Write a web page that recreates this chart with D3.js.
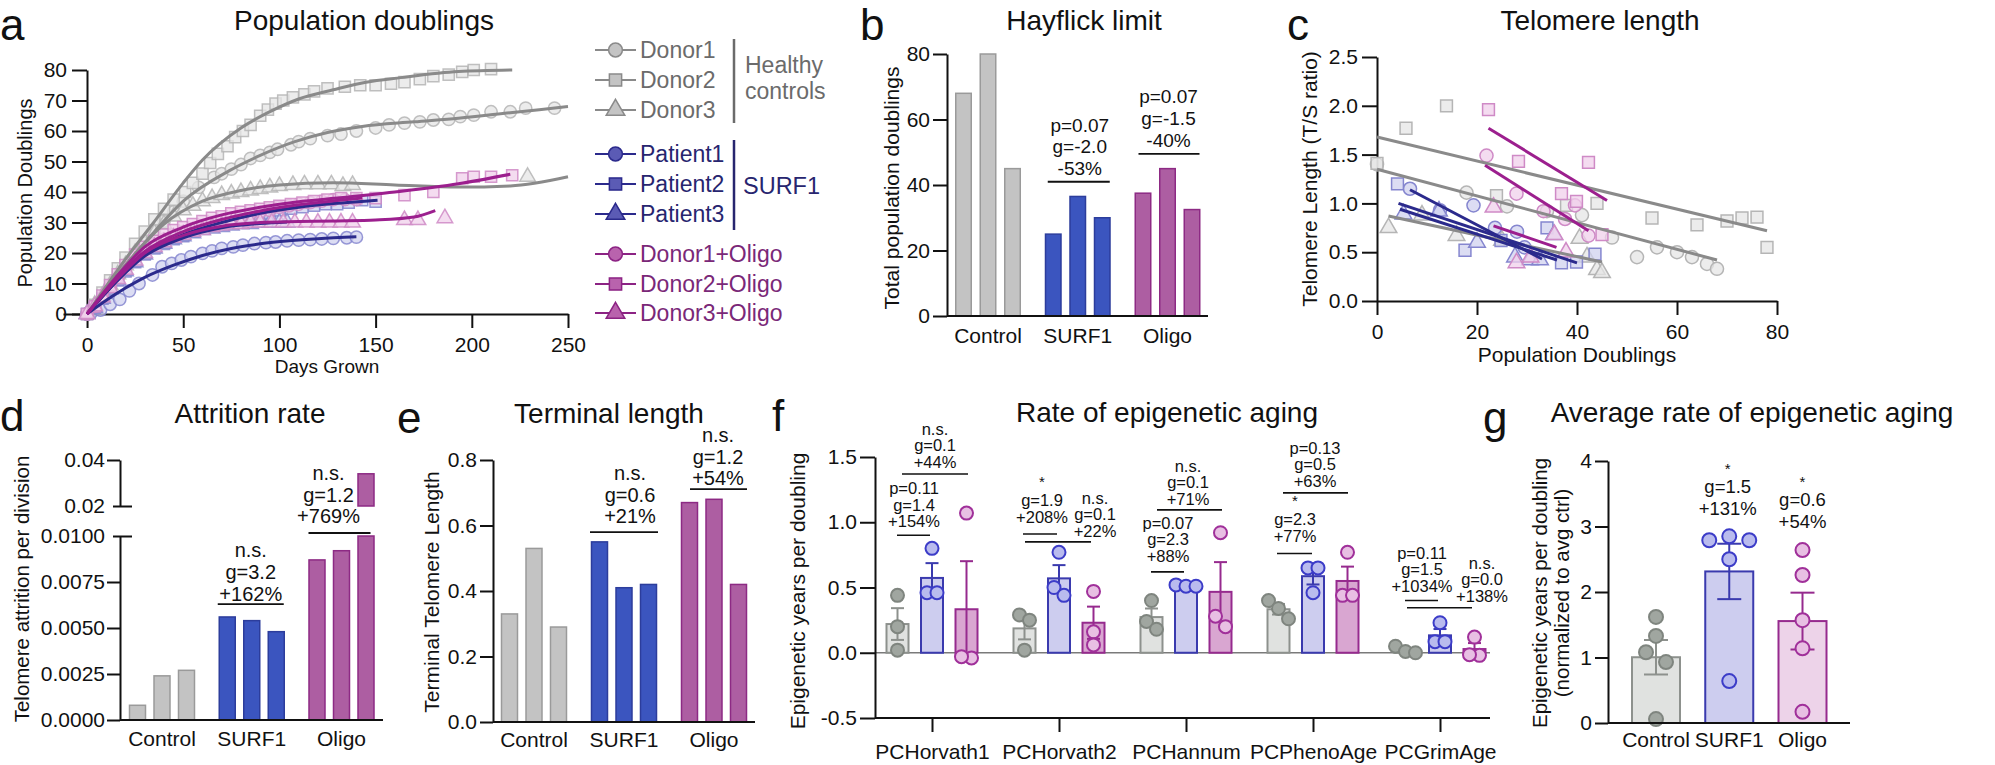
<!DOCTYPE html>
<html>
<head>
<meta charset="utf-8">
<script src="https://cdn.jsdelivr.net/npm/d3@7/dist/d3.min.js"></script>
<style>
  body { margin: 0; background: #fff; }
</style>
</head>
<body>
<svg id="fig" width="1995" height="765"></svg>
<script>
// ---------- a: population doublings over time ----------
const lineNames = ['Donor1', 'Donor2', 'Donor3', 'Patient1', 'Patient2', 'Patient3', 'Donor1+Oligo', 'Donor2+Oligo', 'Donor3+Oligo'];
const lineGroups = ['ctrl', 'ctrl', 'ctrl', 'surf', 'surf', 'surf', 'oligo', 'oligo', 'oligo'];
const daysTicks = [0, 50, 100, 150, 200, 250];
const pdTicks = [0, 10, 20, 30, 40, 50, 60, 70, 80];

const donor1Growth = [[0,0],[4,2.5],[8,5.5],[12,9],[17,13],[21,16.5],[26,20.5],[30,24],[35,27.5],[40,30.5],[45,33.5],[50,37],[58,41.5],[66,44.8],[70,46],[75,47.5],[80,49],[85,51],[90,52],[95,53],[99,54],[106,55.5],[110,56.5],[116,57.5],[125,58.5],[132,59],[140,60],[150,61],[157,62],[165,62.6],[173,63],[180,63.6],[188,63.8],[194,64.7],[201,65.2],[210,66.3],[220,66.3],[228,67.5],[243,67.5]];
const donor2Growth = [[0,0],[4,3],[8,7],[12,11],[16,15],[20,18.5],[25,23],[30,27],[35,31],[40,34.5],[45,37.5],[51,40],[55,43],[60,46],[64,49.5],[68,52.5],[73,55],[77,58],[81,60],[85,62],[90,65],[94,67],[98,69],[102,70],[107,71],[113,72],[118,73],[125,74],[134,74.5],[142,75],[150,75],[158,75.5],[165,76],[173,77],[180,78],[188,78.5],[195,79.4],[201,80],[210,80.3]];
const donor3Growth = [[0,0],[4,3],[8,6],[12,9.5],[16,13],[20,16],[25,20],[30,23.5],[35,26.5],[40,29.5],[45,32],[50,34],[55,35.5],[60,37],[65,38],[70,39],[75,39.5],[80,40],[85,40.5],[90,41],[95,41.5],[100,42],[107,42.3],[113,42.5],[120,42.5],[127,42.5],[133,42],[138,42.3],[229,45]];
const patient1Growth = [[0,0],[2,0.3],[7,1.3],[12,3.2],[17,4.8],[22,7.6],[27,10],[34,12.8],[39,15.5],[44,16.6],[49,17.7],[54,18.8],[60,19.9],[65,20.7],[70,21.5],[76,22],[81,22.6],[87,23.1],[93,23.4],[98,23.6],[104,24],[110,24.2],[116,24.4],[122,24.6],[128,24.8],[135,25],[140,25.2]];
const patient2Growth = [[0,0],[4,2],[8,5],[12,8],[16,11],[20,14],[25,17],[30,19.5],[35,21.5],[40,23],[45,24.5],[50,25.5],[55,27],[60,28],[65,29],[70,30],[75,30.5],[80,31.5],[85,32],[90,32.5],[95,33],[100,34],[106,34.5],[112,35],[118,35.5],[124,36],[130,36],[136,36.5],[143,37.3],[150,36.8]];
const patient3Growth = [[0,0],[4,2],[8,5],[12,8],[16,11],[20,14],[25,17],[30,19.5],[35,21.5],[40,23],[45,24.5],[50,25.5],[55,26.5],[60,27.5],[65,28],[70,28.5],[75,29],[80,29.5],[85,29.5],[90,30],[95,30],[100,30],[104,30]];
const oligo1Growth = [[0,0],[4,2.5],[8,5.5],[12,9],[16,12],[20,15],[25,18.5],[30,21],[35,23],[40,24.5],[45,26],[50,27],[55,28],[60,29],[65,30],[70,30.5],[75,31.5],[80,32],[85,33],[90,33.5],[95,34],[100,35],[105,35.5],[110,36],[116,36.5],[122,37],[128,37.5],[134,37.5],[140,37.5]];
const oligo2Growth = [[0,0],[4,2.5],[8,6],[12,9.5],[16,13],[20,16],[25,19.5],[30,22],[35,24],[40,26],[45,27.5],[50,28.5],[55,29.5],[60,30.5],[65,31.5],[70,32],[75,33],[80,33.5],[85,34],[90,34.5],[95,35],[100,35.5],[106,36],[112,36.5],[118,37],[125,37.5],[132,38],[140,38],[150,38],[165,39],[180,40],[195,44.5],[201,45],[210,45],[221,45.5]];
const oligo3Growth = [[0,0],[4,2.5],[8,5.5],[12,8.5],[16,11.5],[20,14.5],[25,17.5],[30,20],[35,22],[40,23.5],[45,25],[50,26],[55,27],[60,27.5],[65,28.5],[70,29],[75,29.5],[80,29.5],[85,30],[90,30],[96,30],[102,30],[108,30],[114,30],[120,30],[126,30],[132,30],[138,30],[165,30.8],[172,30.8],[186,31.4]];

const donor1Fit = [[0,0],[20,16],[35,27],[50,37],[74,47],[90,52],[108,56.5],[125,59.5],[143,61.5],[170,63],[193,64.2],[220,66],[250,68]];
const donor2Fit = [[0,0],[20,18],[34,29.5],[50,43],[60,50.5],[80,61],[94,66],[110,70.5],[128,73.5],[145,76],[163,77.5],[193,79.5],[221,80]];
const donor3Fit = [[0,0],[20,16],[40,29.5],[60,37],[80,40.5],[100,42.3],[128,43],[160,42.3],[193,41.6],[220,42],[250,45]];
const patient1Fit = [[0,0],[10,4.5],[20,8.5],[30,12],[45,16],[60,19.2],[75,21.5],[90,23],[105,24],[120,24.7],[140,25.3]];
const patient2Fit = [[0,0],[15,10.5],[30,19.5],[50,26],[70,30],[90,33],[110,35],[130,36.3],[151,37.3]];
const patient3Fit = [[0,0],[15,10.5],[30,19],[50,25],[70,28.3],[90,29.7],[104,30.2]];
const oligo1Fit = [[0,0],[15,11.5],[30,20.5],[50,27],[70,31],[90,33.8],[110,35.8],[130,37.2],[143,38]];
const oligo2Fit = [[0,0],[15,12],[30,22],[50,28.5],[70,32.5],[90,35],[110,36.8],[130,38],[160,40],[193,42.7],[220,45.8]];
const oligo3Fit = [[0,0],[15,11],[30,20],[50,25.8],[70,28.8],[90,30],[110,30.3],[130,30.5],[150,30.8],[170,31.8],[181,33.9]];

// ---------- b: Hayflick limit ----------
const groupNames = ['Control', 'SURF1', 'Oligo'];
const hayTicks = [0, 20, 40, 60, 80];
const hayflickCtrl = [68, 80, 45];
const hayflickSurf = [25, 36.5, 30];
const hayflickOligo = [37.5, 45, 32.5];
const hayflickNotes = [['p=0.07', 'g=-2.0', '-53%'], ['p=0.07', 'g=-1.5', '-40%']];

// ---------- c: telomere length vs doublings ----------
const telXTicks = [0, 20, 40, 60, 80];
const telYTicks = [0, 0.5, 1, 1.5, 2, 2.5];
const donor1Tel = [[0,1.40],[17.9,1.11],[26,0.97],[34,0.92],[41,0.88],[47,0.65],[52,0.45],[56,0.55],[60,0.5],[63,0.45],[66,0.38],[68,0.33]];
const donor2Tel = [[0,1.41],[5.8,1.77],[13.9,2.0],[23.9,1.08],[37.9,0.98],[44,1.0],[55,0.85],[64,0.78],[70,0.82],[73,0.85],[76,0.86],[78,0.55]];
const donor3Tel = [[2.3,0.75],[9,0.88],[15.9,0.67],[25,0.62],[40.5,0.64],[42,0.45],[44,0.32],[45,0.29]];
const patient1Tel = [[6.6,1.15],[12.6,0.93],[19.3,0.98],[23.6,0.75],[28,0.71],[29.5,0.55]];
const patient2Tel = [[4.1,1.2],[17.6,0.52],[24.8,0.62],[34,0.75],[36.9,0.39],[39.9,0.4],[43.6,0.48]];
const patient3Tel = [[5.3,0.89],[12.4,0.92],[20,0.6],[27.6,0.45],[30.6,0.42],[32.6,0.42],[35.4,0.68]];
const oligo1Tel = [[21.9,1.49],[27.9,1.1],[33.3,0.92],[37.6,0.84],[39.6,0.98],[42.3,0.67]];
const oligo2Tel = [[22.3,1.96],[28.3,1.43],[36.9,1.1],[39.9,1.02],[42.3,1.42],[45,0.68]];
const oligo3Tel = [[23.3,0.96],[27.9,0.39],[30.7,0.45],[35.5,0.68],[37.8,0.5]];
const donor1TelFit = [[0,1.35],[68,0.42]];
const donor2TelFit = [[0,1.68],[78,0.72]];
const donor3TelFit = [[2.3,0.87],[45,0.4]];
const patient1TelFit = [[6.6,1.14],[33,0.43]];
const patient2TelFit = [[4.3,1.0],[40,0.39]];
const patient3TelFit = [[4.6,0.94],[36,0.42]];
const oligo1TelFit = [[21.6,1.39],[42.3,0.72]];
const oligo2TelFit = [[22.3,1.77],[46,1.03]];
const oligo3TelFit = [[23.3,0.77],[35.9,0.55]];

// ---------- d: attrition rate ----------
const attrTicksLow = [0, 0.0025, 0.005, 0.0075, 0.01];
const attrTicksHigh = [0.02, 0.04];
const attrCtrl = [0.0008, 0.0024, 0.0027];
const attrSurf = [0.0056, 0.0054, 0.0048];
const attrOligo = [0.0087, 0.0092, 0.034];
const attrNotes = [['n.s.', 'g=3.2', '+162%'], ['n.s.', 'g=1.2', '+769%']];

// ---------- e: terminal length ----------
const termTicks = [0, 0.2, 0.4, 0.6, 0.8];
const termCtrl = [0.33, 0.53, 0.29];
const termSurf = [0.55, 0.41, 0.42];
const termOligo = [0.67, 0.68, 0.42];
const termNotes = [['n.s.', 'g=0.6', '+21%'], ['n.s.', 'g=1.2', '+54%']];

// ---------- f: rate of epigenetic aging per clock ----------
const clockNames = ['PCHorvath1', 'PCHorvath2', 'PCHannum', 'PCPhenoAge', 'PCGrimAge'];
const rateTicks = [-0.5, 0, 0.5, 1, 1.5];
const rateCtrl = [[0.44,0.20,0.02],[0.29,0.25,0.02],[0.40,0.24,0.18],[0.40,0.34,0.26],[0.05,0.01,0.0]];
const rateSurf = [[0.80,0.46,0.46],[0.77,0.50,0.44],[0.52,0.51,0.51],[0.65,0.65,0.46],[0.23,0.085,0.085]];
const rateOligo = [[1.07,-0.04,-0.03],[0.47,0.16,0.06],[0.92,0.28,0.20],[0.77,0.44,0.44],[0.12,-0.02,-0.015]];
const rateNotes = [
  ['p=0.11', 'g=1.4', '+154%'], ['n.s.', 'g=0.1', '+44%'],
  ['*', 'g=1.9', '+208%'], ['n.s.', 'g=0.1', '+22%'],
  ['p=0.07', 'g=2.3', '+88%'], ['n.s.', 'g=0.1', '+71%'],
  ['*', 'g=2.3', '+77%'], ['p=0.13', 'g=0.5', '+63%'],
  ['p=0.11', 'g=1.5', '+1034%'], ['n.s.', 'g=0.0', '+138%']
];

// ---------- g: average rate ----------
const avgTicks = [0, 1, 2, 3, 4];
const avgCtrl = [1.62, 1.33, 1.08, 0.93, 0.06];
const avgSurf = [2.85, 2.79, 2.79, 2.50, 0.64];
const avgOligo = [2.64, 2.26, 1.57, 1.14, 0.17];
const avgNotes = [['*', 'g=1.5', '+131%'], ['*', 'g=0.6', '+54%']];

// =====================================================================
const FONT = "'Liberation Sans', Arial, Helvetica, sans-serif";
const svg = d3.select('#fig').attr('font-family', FONT);
svg.append('rect').attr('width', 1995).attr('height', 765).attr('fill', '#fff');

const ST = {
  ctrl:  {line: '#8a8a8a', mf: '#e6e6e6', ms: '#b5b5b5', lf: '#c4c4c4', ls: '#8a8a8a', txt: '#6b6b6b',
          bar: '#c3c3c3', barS: '#9a9a9a', lbar: '#e0e2e0', lbarS: '#8d918d', pf: '#a0a6a0', ps: '#7f857f'},
  surf:  {line: '#2b2a8c', mf: '#d0d1ef', ms: '#8586cf', lf: '#5b5bb5', ls: '#2b2a8c', txt: '#27256f',
          bar: '#3b55bf', barS: '#2c3d9c', lbar: '#cdcdef', lbarS: '#3a3aae', pf: '#b9bbee', ps: '#3c3cc8'},
  oligo: {line: '#9c1f8e', mf: '#f0d0eb', ms: '#cf8ac6', lf: '#b963ad', ls: '#8c2384', txt: '#7a2878',
          bar: '#ad5ea2', barS: '#8d2a84', lbar: '#d9a6d1', lbarS: '#962a8e', pf: '#e8bfe3', ps: '#a0309a'}
};
const shapeOf = i => [d3.symbolCircle, d3.symbolSquare, d3.symbolTriangle][i % 3];
const sizeOf = i => [120, 125, 105][i % 3];

function styleAxis(g) {
  g.attr('font-family', FONT).attr('font-size', 21);
  g.selectAll('.domain').attr('stroke', '#111').attr('stroke-width', 2);
  g.selectAll('.tick line').attr('stroke', '#111').attr('stroke-width', 2);
  g.selectAll('.tick text').attr('fill', '#111');
}
function txt(g, s, x, y, size, anchor, fill) {
  return g.append('text').attr('x', x).attr('y', y).attr('font-size', size)
    .attr('text-anchor', anchor || 'middle').attr('fill', fill || '#111').text(s);
}
function yLabel(g, lines, cx, cy, size) {
  lines.forEach((s, i) => {
    g.append('text').attr('transform', 'translate(' + (cx + i * 22 + size * 0.35) + ',' + cy + ') rotate(-90)')
      .attr('text-anchor', 'middle').attr('font-size', size).attr('fill', '#111').text(s);
  });
}
function hline(g, x1, x2, y, w) {
  g.append('line').attr('x1', x1).attr('x2', x2).attr('y1', y).attr('y2', y)
    .attr('stroke', '#111').attr('stroke-width', w || 2);
}
// stacked annotation text above a bracket line; '*' is set smaller and sits just above the next line
function annot(g, texts, cx, lastBase, lh, size) {
  texts.forEach((t, i) => {
    const base = lastBase - (texts.length - 1 - i) * lh;
    if (t === '*') txt(g, t, cx, base + lh - 19, 15);
    else txt(g, t, cx, base, size);
  });
}

// panel letters and titles
[['a', 0, 40], ['b', 860, 40], ['c', 1287, 40], ['d', 0, 431], ['e', 397, 433], ['f', 772, 431], ['g', 1483, 433]]
  .forEach(l => txt(svg, l[0], l[1], l[2], 44, 'start'));
[['Population doublings', 364, 30], ['Hayflick limit', 1084, 30], ['Telomere length', 1600, 30],
 ['Attrition rate', 250, 423], ['Terminal length', 609, 423], ['Rate of epigenetic aging', 1167, 422],
 ['Average rate of epigenetic aging', 1752, 422]]
  .forEach(t => txt(svg, t[0], t[1], t[2], 28));

// ---------- panel a ----------
{
  const g = svg.append('g');
  const x = d3.scaleLinear().domain([-12.5, 250]).range([63, 568]);
  const y = d3.scaleLinear().domain([0, 80]).range([314, 70]);
  g.append('g').attr('transform', 'translate(87,0)')
    .call(d3.axisLeft(y).tickValues(pdTicks).tickFormat(d3.format('d')).tickSize(15).tickPadding(5).tickSizeOuter(0)).call(styleAxis);
  g.append('g').attr('transform', 'translate(0,314)')
    .call(d3.axisBottom(x).tickValues(daysTicks).tickFormat(d3.format('d')).tickSize(14).tickPadding(9).tickSizeOuter(0)).call(styleAxis);
  yLabel(g, ['Population Doublings'], 25, 193, 20);
  txt(g, 'Days Grown', 327, 373, 19);

  const growth = [donor1Growth, donor2Growth, donor3Growth, patient1Growth, patient2Growth, patient3Growth, oligo1Growth, oligo2Growth, oligo3Growth];
  const fits = [donor1Fit, donor2Fit, donor3Fit, patient1Fit, patient2Fit, patient3Fit, oligo1Fit, oligo2Fit, oligo3Fit];
  growth.forEach((pts, i) => {
    const s = ST[lineGroups[i]];
    g.append('g').selectAll('path').data(pts).enter().append('path')
      .attr('d', d3.symbol().type(shapeOf(i)).size(sizeOf(i)))
      .attr('transform', d => 'translate(' + x(d[0]) + ',' + y(d[1]) + ')')
      .attr('fill', s.mf).attr('fill-opacity', 0.75).attr('stroke', s.ms).attr('stroke-width', 1.5).attr('stroke-opacity', 0.85);
  });
  const line = d3.line().x(d => x(d[0])).y(d => y(d[1])).curve(d3.curveMonotoneX);
  fits.forEach((f, i) => {
    g.append('path').attr('d', line(f)).attr('fill', 'none')
      .attr('stroke', ST[lineGroups[i]].line).attr('stroke-width', 3);
  });

  // legend
  const rowY = [50, 80, 110, 154, 184, 214, 254, 284, 313];
  lineNames.forEach((n, i) => {
    const s = ST[lineGroups[i]];
    const yy = rowY[i];
    g.append('line').attr('x1', 595).attr('x2', 636).attr('y1', yy).attr('y2', yy).attr('stroke', s.ls).attr('stroke-width', 2);
    g.append('path').attr('d', d3.symbol().type(shapeOf(i)).size(150)).attr('transform', 'translate(615.5,' + yy + ')')
      .attr('fill', s.lf).attr('stroke', s.ls).attr('stroke-width', 1.5);
    txt(g, n, 640, yy + 8, 23, 'start', s.txt);
  });
  g.append('line').attr('x1', 734).attr('x2', 734).attr('y1', 39).attr('y2', 123).attr('stroke', ST.ctrl.txt).attr('stroke-width', 2.5);
  g.append('line').attr('x1', 734).attr('x2', 734).attr('y1', 140).attr('y2', 230).attr('stroke', ST.surf.txt).attr('stroke-width', 2.5);
  txt(g, 'Healthy', 745, 73, 23, 'start', ST.ctrl.txt);
  txt(g, 'controls', 745, 99, 23, 'start', ST.ctrl.txt);
  txt(g, 'SURF1', 743, 194, 23.5, 'start', ST.surf.txt);
}

// generic 3x3 bar panel (b, d, e)
function bars(g, gx, yScale, vals, bw, clipTop) {
  const inner = d3.scalePoint().domain([0, 1, 2]).range([-24.5, 24.5]);
  ['ctrl', 'surf', 'oligo'].forEach((k, gi) => {
    vals[gi].forEach((v, j) => {
      const cx = gx(groupNames[gi]) + inner(j);
      const top = clipTop !== undefined ? Math.min(v, clipTop) : v;
      g.append('rect').attr('x', cx - bw / 2).attr('width', bw)
        .attr('y', yScale(top)).attr('height', yScale(0) - yScale(top))
        .attr('fill', ST[k].bar).attr('stroke', ST[k].barS).attr('stroke-width', 1.5);
    });
  });
}
function catLabels(g, gx, y) {
  groupNames.forEach(n => txt(g, n, gx(n), y, 21));
}

// ---------- panel b ----------
{
  const g = svg.append('g');
  const y = d3.scaleLinear().domain([0, 80]).range([316, 54]);
  const gx = d3.scalePoint().domain(groupNames).range([988, 1167.5]);
  bars(g, gx, y, [hayflickCtrl, hayflickSurf, hayflickOligo], 15.5);
  g.append('g').attr('transform', 'translate(947,0)')
    .call(d3.axisLeft(y).tickValues(hayTicks).tickFormat(d3.format('d')).tickSize(14).tickPadding(3).tickSizeOuter(0)).call(styleAxis);
  hline(g, 947, 1208, 316);
  yLabel(g, ['Total population doublings'], 892, 188, 21);
  catLabels(g, gx, 343);
  const l1 = y(41), l2 = y(49.5);
  hline(g, gx('SURF1') - 30, gx('SURF1') + 32, l1, 1.8);
  annot(g, hayflickNotes[0], gx('SURF1') + 2, l1 - 7, 21.5, 19);
  hline(g, gx('Oligo') - 29, gx('Oligo') + 32, l2, 1.8);
  annot(g, hayflickNotes[1], gx('Oligo') + 1, l2 - 7, 22, 19);
}

// ---------- panel c ----------
{
  const g = svg.append('g');
  const x = d3.scaleLinear().domain([0, 80]).range([1377, 1777]);
  const y = d3.scaleLinear().domain([0, 2.5]).range([301, 57]);
  g.append('g').attr('transform', 'translate(1377,0)')
    .call(d3.axisLeft(y).tickValues(telYTicks).tickFormat(d3.format('.1f')).tickSize(15).tickPadding(4).tickSizeOuter(0)).call(styleAxis);
  g.append('g').attr('transform', 'translate(0,301)')
    .call(d3.axisBottom(x).tickValues(telXTicks).tickFormat(d3.format('d')).tickSize(14).tickPadding(9).tickSizeOuter(0)).call(styleAxis);
  yLabel(g, ['Telomere Length (T/S ratio)'], 1310, 179, 21);
  txt(g, 'Population Doublings', 1577, 362, 21);
  const pts = [donor1Tel, donor2Tel, donor3Tel, patient1Tel, patient2Tel, patient3Tel, oligo1Tel, oligo2Tel, oligo3Tel];
  const fits = [donor1TelFit, donor2TelFit, donor3TelFit, patient1TelFit, patient2TelFit, patient3TelFit, oligo1TelFit, oligo2TelFit, oligo3TelFit];
  pts.forEach((p, i) => {
    const s = ST[lineGroups[i]];
    g.append('g').selectAll('path').data(p).enter().append('path')
      .attr('d', d3.symbol().type(shapeOf(i)).size(sizeOf(i) + 15))
      .attr('transform', d => 'translate(' + x(d[0]) + ',' + y(d[1]) + ')')
      .attr('fill', s.mf).attr('fill-opacity', 0.75).attr('stroke', s.ms).attr('stroke-width', 1.5);
  });
  const line = d3.line().x(d => x(d[0])).y(d => y(d[1]));
  fits.forEach((f, i) => {
    g.append('path').attr('d', line(f)).attr('fill', 'none')
      .attr('stroke', ST[lineGroups[i]].line).attr('stroke-width', 3);
  });
}

// ---------- panel d (broken axis) ----------
{
  const g = svg.append('g');
  const yLo = d3.scaleLinear().domain([0, 0.01]).range([720, 536]);
  const yHi = d3.scaleLinear().domain([0.02, 0.04]).range([506, 460]);
  const gx = d3.scalePoint().domain(groupNames).range([162, 341.5]);
  bars(g, gx, yLo, [attrCtrl, attrSurf, attrOligo], 16, 0.01);
  // part of bars above the break
  const inner = d3.scalePoint().domain([0, 1, 2]).range([-24.5, 24.5]);
  [attrCtrl, attrSurf, attrOligo].forEach((arr, gi) => {
    const k = ['ctrl', 'surf', 'oligo'][gi];
    arr.forEach((v, j) => {
      if (v <= 0.02) return;
      const cx = gx(groupNames[gi]) + inner(j);
      g.append('rect').attr('x', cx - 8).attr('width', 16).attr('y', yHi(v)).attr('height', yHi(0.02) - yHi(v))
        .attr('fill', ST[k].bar).attr('stroke', ST[k].barS).attr('stroke-width', 1.5);
    });
  });
  const lo = g.append('g').attr('transform', 'translate(120,0)')
    .call(d3.axisLeft(yLo).tickValues(attrTicksLow).tickFormat(d3.format('.4f')).tickSize(13).tickPadding(2).tickSizeOuter(0)).call(styleAxis);
  lo.selectAll('.tick').filter(d => d === 0.01).select('line').attr('x1', 12).attr('x2', -7);
  const hi = g.append('g').attr('transform', 'translate(120,0)')
    .call(d3.axisLeft(yHi).tickValues(attrTicksHigh).tickFormat(d3.format('.2f')).tickSize(13).tickPadding(2).tickSizeOuter(0)).call(styleAxis);
  hi.selectAll('.tick').filter(d => d === 0.02).select('line').attr('x1', 12).attr('x2', -7);
  hline(g, 120, 383, 720);
  yLabel(g, ['Telomere attrition per division'], 22, 589, 20.5);
  catLabels(g, gx, 746);
  const l1 = yLo(0.0063);
  hline(g, gx('SURF1') - 34, gx('SURF1') + 32, l1, 1.8);
  annot(g, attrNotes[0], gx('SURF1') - 1, l1 - 3.5, 22, 20);
  const l2 = yLo(0.01) - 3;
  hline(g, gx('Oligo') - 33, gx('Oligo') + 29, l2, 1.8);
  annot(g, attrNotes[1], gx('Oligo') - 13, l2 - 10, 21.5, 20);
}

// ---------- panel e ----------
{
  const g = svg.append('g');
  const y = d3.scaleLinear().domain([0, 0.8]).range([722, 460]);
  const gx = d3.scalePoint().domain(groupNames).range([534, 714]);
  bars(g, gx, y, [termCtrl, termSurf, termOligo], 16);
  g.append('g').attr('transform', 'translate(493,0)')
    .call(d3.axisLeft(y).tickValues(termTicks).tickFormat(d3.format('.1f')).tickSize(13).tickPadding(3).tickSizeOuter(0)).call(styleAxis);
  hline(g, 493, 755, 722);
  yLabel(g, ['Terminal Telomere Length'], 432, 592, 21);
  catLabels(g, gx, 747);
  const l1 = y(0.58);
  hline(g, gx('SURF1') - 34, gx('SURF1') + 34, l1, 1.8);
  annot(g, termNotes[0], gx('SURF1') + 6, l1 - 9, 21.5, 20);
  const l2 = y(0.711);
  hline(g, gx('Oligo') - 24, gx('Oligo') + 33, l2, 1.8);
  annot(g, termNotes[1], gx('Oligo') + 4, l2 - 4, 21.5, 20);
}

// mean / SEM helpers and point spreading
const sem = a => d3.deviation(a) / Math.sqrt(a.length);
function clusterOffsets(vals, y, minDist, step) {
  const idx = vals.map((v, i) => i).sort((a, b) => y(vals[a]) - y(vals[b]));
  const off = new Array(vals.length).fill(0);
  let cl = [idx[0]];
  const flush = () => cl.forEach((k, i) => { off[k] = (i - (cl.length - 1) / 2) * step; });
  for (let i = 1; i < idx.length; i++) {
    if (y(vals[idx[i]]) - y(vals[idx[i - 1]]) < minDist) cl.push(idx[i]);
    else { flush(); cl = [idx[i]]; }
  }
  flush();
  return off;
}
function greedyOffsets(vals, y, minDist, step) {
  const placed = [];
  return vals.map(v => {
    const py = y(v);
    for (const dx of [0, -step, step, -2 * step, 2 * step, -3 * step, 3 * step]) {
      if (placed.every(p => Math.hypot(p[0] - dx, p[1] - py) >= minDist)) { placed.push([dx, py]); return dx; }
    }
    placed.push([0, py]); return 0;
  });
}
function meanBar(g, cx, bw, y, vals, k, cap, offs, r, lightOligo) {
  const s = ST[k];
  const m = d3.mean(vals), e = sem(vals);
  const fill = (k === 'oligo' && lightOligo) ? '#edd3e9' : s.lbar;
  g.append('rect').attr('x', cx - bw / 2).attr('width', bw)
    .attr('y', Math.min(y(m), y(0))).attr('height', Math.abs(y(0) - y(m)))
    .attr('fill', fill).attr('stroke', s.lbarS).attr('stroke-width', 2);
  g.append('line').attr('x1', cx).attr('x2', cx).attr('y1', y(m - e)).attr('y2', y(m + e)).attr('stroke', s.lbarS).attr('stroke-width', 2);
  [m - e, m + e].forEach(v => g.append('line').attr('x1', cx - cap / 2).attr('x2', cx + cap / 2)
    .attr('y1', y(v)).attr('y2', y(v)).attr('stroke', s.lbarS).attr('stroke-width', 2));
  vals.forEach((v, i) => {
    g.append('circle').attr('cx', cx + offs[i]).attr('cy', y(v)).attr('r', r)
      .attr('fill', s.pf).attr('stroke', s.ps).attr('stroke-width', 2);
  });
}

// ---------- panel f ----------
{
  const g = svg.append('g');
  const y = d3.scaleLinear().domain([-0.5, 1.5]).range([718, 457]);
  const cx = d3.scalePoint().domain(clockNames).range([932, 1440]);
  const off = d3.scalePoint().domain(['ctrl', 'surf', 'oligo']).range([-34.5, 34.5]);
  g.append('line').attr('x1', 875).attr('x2', 1490).attr('y1', y(0)).attr('y2', y(0)).attr('stroke', '#7a7a7a').attr('stroke-width', 1.5);
  clockNames.forEach((c, i) => {
    [['ctrl', rateCtrl], ['surf', rateSurf], ['oligo', rateOligo]].forEach(([k, arr]) => {
      const vals = arr[i];
      meanBar(g, cx(c) + off(k), 22, y, vals, k, 13, clusterOffsets(vals, y, 11, 10), 6.5, false);
    });
  });
  g.append('g').attr('transform', 'translate(875,0)')
    .call(d3.axisLeft(y).tickValues(rateTicks).tickFormat(d => d.toFixed(1)).tickSize(15).tickPadding(3).tickSizeOuter(0)).call(styleAxis);
  g.append('g').attr('transform', 'translate(0,718)')
    .call(d3.axisBottom(cx).tickSize(14).tickPadding(12).tickSizeOuter(0)).call(styleAxis)
    .call(a => a.select('.domain').attr('d', 'M875,0H1490'));
  yLabel(g, ['Epigenetic years per doubling'], 798, 591, 21);
  // comparison brackets: [line value, x1, x2, text offset, gap]
  const layout = [
    [0.90, -35, -2, -18, 8], [1.37, -30, 36, 3, 6],
    [0.91, -36, -2, -17, 11], [0.85, -34, 32, 36, 5],
    [0.62, -35, -2, -18, 10], [1.095, -29, 36, 2, 5],
    [0.76, -36, -1, -18, 12], [1.225, -30, 35, 2, 6],
    [0.40, -35, -2, -18, 9], [0.345, -33, 32, 42, 6]
  ];
  rateNotes.forEach((t, i) => {
    const c = cx(clockNames[Math.floor(i / 2)]);
    const L = layout[i];
    hline(g, c + L[1], c + L[2], y(L[0]), 1.6);
    annot(g, t, c + L[3], y(L[0]) - L[4], 16.5, 16.5);
  });
}

// ---------- panel g ----------
{
  const g = svg.append('g');
  const y = d3.scaleLinear().domain([0, 4]).range([723, 461]);
  const gx = d3.scalePoint().domain(groupNames).range([1656, 1802.5]);
  [['ctrl', avgCtrl], ['surf', avgSurf], ['oligo', avgOligo]].forEach(([k, vals], i) => {
    meanBar(g, gx(groupNames[i]), 48, y, vals, k, 24, greedyOffsets(vals, y, 17, 10), 7, true);
  });
  g.append('g').attr('transform', 'translate(1608,0)')
    .call(d3.axisLeft(y).tickValues(avgTicks).tickFormat(d3.format('d')).tickSize(13).tickPadding(3).tickSizeOuter(0)).call(styleAxis);
  hline(g, 1608, 1850, 723);
  yLabel(g, ['Epigenetic years per doubling', '(normalized to avg ctrl)'], 1540, 593, 20.5);
  catLabels(g, gx, 747);
  annot(g, avgNotes[0], gx('SURF1') - 1.5, y(3.18), 21.5, 18.5);
  annot(g, avgNotes[1], gx('Oligo'), y(2.98), 21.5, 18.5);
}
</script>
</body>
</html>
